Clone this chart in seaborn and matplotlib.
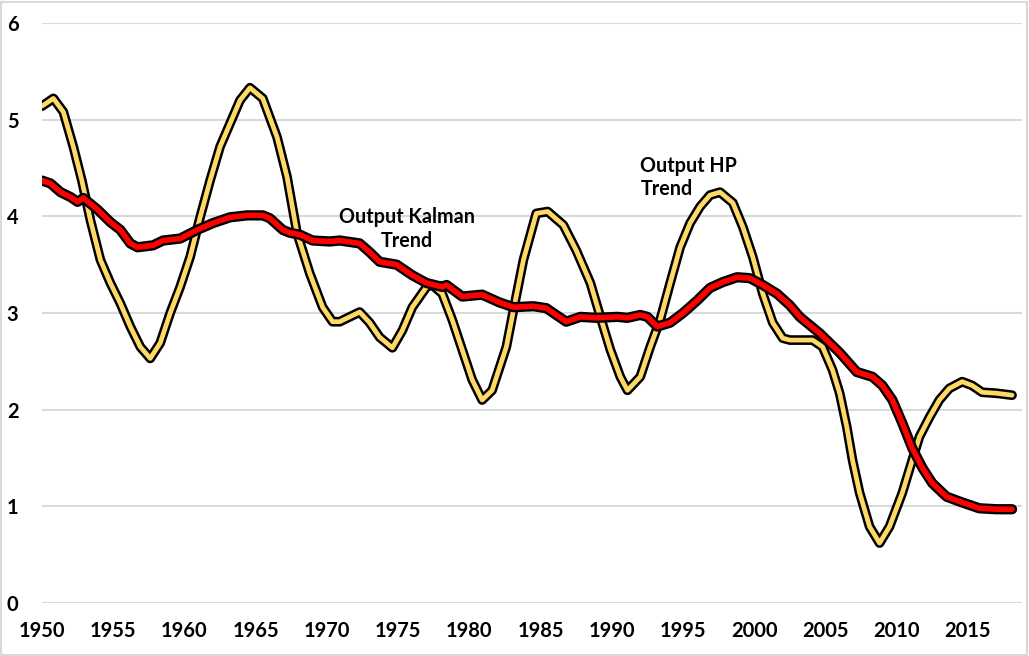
import numpy as np
import pandas as pd
import matplotlib
matplotlib.use("Agg")
import matplotlib.pyplot as plt
import matplotlib.patheffects as pe
from matplotlib.patches import Rectangle
import seaborn as sns

# HP trend (yellow)
hp_year = [1950.0, 1950.8, 1951.5, 1952.2, 1952.8, 1953.4, 1954.1, 1954.8, 1955.5, 1956.2,
           1956.9, 1957.6, 1958.3, 1959.0, 1959.7, 1960.4, 1961.1, 1961.8, 1962.5, 1963.2,
           1963.9, 1964.6, 1965.5, 1966.5, 1967.2, 1967.9, 1968.8, 1969.7, 1970.4, 1970.9,
           1972.3, 1973.0, 1973.7, 1974.6, 1975.3, 1976.0, 1977.0, 1977.4, 1978.1, 1978.8,
           1979.5, 1980.2, 1980.9, 1981.6, 1982.6, 1983.1, 1983.8, 1984.7, 1985.5, 1986.6,
           1987.5, 1988.5, 1989.2, 1989.9, 1990.6, 1991.1, 1992.0, 1992.7, 1993.4, 1994.1,
           1994.8, 1995.5, 1996.2, 1996.9, 1997.6, 1998.5, 1999.2, 1999.9, 2000.6, 2001.3,
           2002.0, 2002.5, 2004.1, 2004.8, 2005.5, 2006.0, 2006.5, 2006.9, 2007.4, 2008.1,
           2008.8, 2009.5, 2010.4, 2011.1, 2011.6, 2012.3, 2013.0, 2013.7, 2014.6, 2015.3,
           2016.0, 2017.0, 2018.1]
hp_value = [5.14, 5.22, 5.08, 4.72, 4.37, 3.96, 3.55, 3.31, 3.10, 2.86,
            2.65, 2.53, 2.69, 3.00, 3.27, 3.58, 3.99, 4.37, 4.72, 4.96,
            5.20, 5.33, 5.22, 4.82, 4.41, 3.83, 3.41, 3.06, 2.91, 2.91,
            3.01, 2.90, 2.75, 2.64, 2.82, 3.06, 3.27, 3.29, 3.20, 2.93,
            2.62, 2.31, 2.10, 2.20, 2.65, 3.03, 3.55, 4.03, 4.05, 3.91,
            3.65, 3.31, 2.96, 2.62, 2.34, 2.20, 2.34, 2.65, 2.93, 3.31,
            3.68, 3.93, 4.10, 4.22, 4.25, 4.14, 3.89, 3.58, 3.20, 2.90,
            2.74, 2.72, 2.72, 2.65, 2.41, 2.17, 1.82, 1.48, 1.14, 0.79,
            0.62, 0.79, 1.14, 1.48, 1.72, 1.92, 2.10, 2.22, 2.29, 2.25,
            2.18, 2.17, 2.15]

# Kalman trend (red)
kal_year = [1950.0, 1950.6, 1951.3, 1952.0, 1952.5, 1952.9, 1953.9, 1954.8, 1955.5, 1956.2,
            1956.7, 1957.8, 1958.5, 1959.7, 1960.9, 1962.0, 1963.2, 1964.4, 1965.5, 1966.0,
            1966.9, 1967.4, 1968.1, 1969.0, 1970.2, 1970.9, 1972.3, 1973.0, 1973.7, 1974.9,
            1976.0, 1977.0, 1978.1, 1978.4, 1979.5, 1980.9, 1982.1, 1983.1, 1984.5, 1985.4,
            1986.8, 1987.8, 1988.9, 1990.4, 1991.1, 1992.0, 1992.5, 1993.2, 1994.1, 1995.0,
            1996.0, 1996.9, 1997.8, 1998.8, 1999.7, 2000.6, 2001.6, 2002.5, 2003.2, 2004.6,
            2006.0, 2007.2, 2008.3, 2009.0, 2009.7, 2010.4, 2011.1, 2011.8, 2012.5, 2013.5,
            2014.6, 2015.8, 2017.0, 2018.1]
kal_value = [4.37, 4.34, 4.25, 4.20, 4.15, 4.19, 4.07, 3.94, 3.86, 3.72,
             3.68, 3.70, 3.75, 3.77, 3.86, 3.93, 3.99, 4.01, 4.01, 3.98,
             3.86, 3.83, 3.81, 3.75, 3.74, 3.75, 3.72, 3.63, 3.53, 3.50,
             3.39, 3.31, 3.27, 3.29, 3.17, 3.19, 3.11, 3.06, 3.07, 3.05,
             2.91, 2.96, 2.95, 2.96, 2.95, 2.98, 2.96, 2.86, 2.90, 3.00,
             3.13, 3.26, 3.32, 3.37, 3.36, 3.29, 3.20, 3.08, 2.96, 2.79,
             2.59, 2.39, 2.34, 2.25, 2.10, 1.86, 1.60, 1.40, 1.24, 1.10,
             1.04, 0.98, 0.97, 0.97]

x_ticks = [1950, 1955, 1960, 1965, 1970, 1975, 1980, 1985, 1990, 1995, 2000, 2005, 2010, 2015]
y_ticks = [0, 1, 2, 3, 4, 5, 6]
label_kalman = "Output Kalman\nTrend"
label_hp = "Output HP\nTrend"

sns.set_style("white")
plt.rcParams['font.family'] = ['Lato', 'DejaVu Sans']
plt.rcParams['font.weight'] = 'bold'
plt.rcParams['text.color'] = 'black'

fig = plt.figure(figsize=(10.29, 6.56), dpi=100)
ax = fig.add_axes([42/1029, 1-603/656, (1022-42)/1029, (603-23)/656])

df_hp = pd.DataFrame({"year": hp_year, "value": hp_value})
df_k = pd.DataFrame({"year": kal_year, "value": kal_value})

sns.lineplot(data=df_hp, x="year", y="value", ax=ax, color="#FFD966", linewidth=3.4,
             solid_joinstyle="round", solid_capstyle="round",
             path_effects=[pe.Stroke(linewidth=7.0, foreground="black"), pe.Normal()], zorder=3)
sns.lineplot(data=df_k, x="year", y="value", ax=ax, color="#FF0000", linewidth=4.0,
             solid_joinstyle="round", solid_capstyle="round",
             path_effects=[pe.Stroke(linewidth=7.4, foreground="black"), pe.Normal()], zorder=4)

ax.set_xlim(1950, 2018.8)
ax.set_ylim(0, 6)
ax.set_xticks(x_ticks)
ax.set_xticklabels([str(t) for t in x_ticks])
ax.set_yticks(y_ticks)
ax.set_yticklabels([str(t) for t in y_ticks])
ax.set_xlabel("")
ax.set_ylabel("")
ax.grid(axis="y", color="#D9D9D9", linewidth=1.5)
ax.set_axisbelow(True)
for s in ax.spines.values():
    s.set_visible(False)
ax.tick_params(axis="both", length=0, labelsize=14.5, colors="black")
ax.tick_params(axis="x", pad=13)
ax.tick_params(axis="y", pad=17)
for lab in ax.get_xticklabels() + ax.get_yticklabels():
    lab.set_fontweight("bold")

ax.text(1975.6, 3.87, label_kalman, ha="center", va="center", fontsize=14.2,
        fontweight="bold", linespacing=1.2, color="black", zorder=5)
ax.text(1992.0, 4.40, label_hp, ha="left", va="center", fontsize=14.2,
        fontweight="bold", linespacing=1.2, color="black", zorder=5)

fig.patches.append(Rectangle((0.001, 0.002), 0.997, 0.995, transform=fig.transFigure,
                             fill=False, edgecolor="#D9D9D9", linewidth=1.5))

fig.savefig("out.png", dpi=100)
